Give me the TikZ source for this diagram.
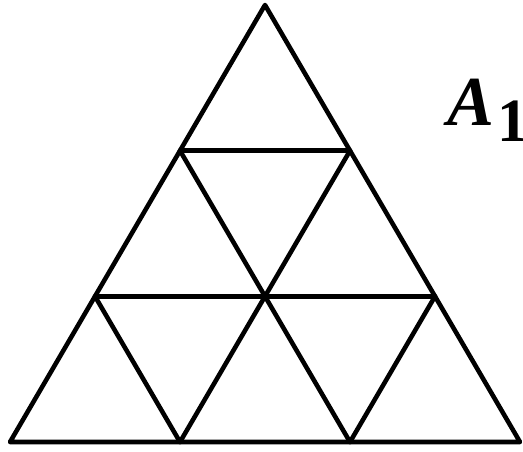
\documentclass[tikz,border=0pt]{standalone}
\usepackage{fontspec}
\newfontfamily\labfont{Liberation Serif}
\usetikzlibrary{positioning,calc}

\begin{document}
\begin{tikzpicture}[x=0.02cm,y=-0.02cm,edge/.style={line width=2.6pt,line cap=round,line join=round}]
  \useasboundingbox (0,0) rectangle (523,451);
  % corner points of the big triangle
  \coordinate (top) at (265,5);
  \coordinate (b0) at (10,442);
  \coordinate (b3) at (520,442);
  % division points
  \coordinate (l1) at ($(top)!1/3!(b0)$);
  \coordinate (r1) at ($(top)!1/3!(b3)$);
  \coordinate (l2) at ($(top)!2/3!(b0)$);
  \coordinate (r2) at ($(top)!2/3!(b3)$);
  \coordinate (m2) at ($(l2)!0.5!(r2)$);
  \coordinate (b1) at ($(b0)!1/3!(b3)$);
  \coordinate (b2) at ($(b0)!2/3!(b3)$);
  % outer triangle
  \draw[edge] (top)--(b0)--(b3)--cycle;
  % horizontal rows
  \draw[edge] (l1)--(r1);
  \draw[edge] (l2)--(r2);
  % slanted inner lines
  \draw[edge] (l1)--(b2);
  \draw[edge] (r1)--(b1);
  \draw[edge] (l2)--(b1);
  \draw[edge] (r2)--(b2);
  \node[anchor=base west,inner sep=0pt,font=\labfont\bfseries\fontsize{40}{44}\selectfont]
        (lab) at (447,125)
        {\itshape A\kern2pt\raisebox{-9.6pt}{\upshape\fontsize{35}{40}\selectfont 1}};
\end{tikzpicture}
\end{document}
